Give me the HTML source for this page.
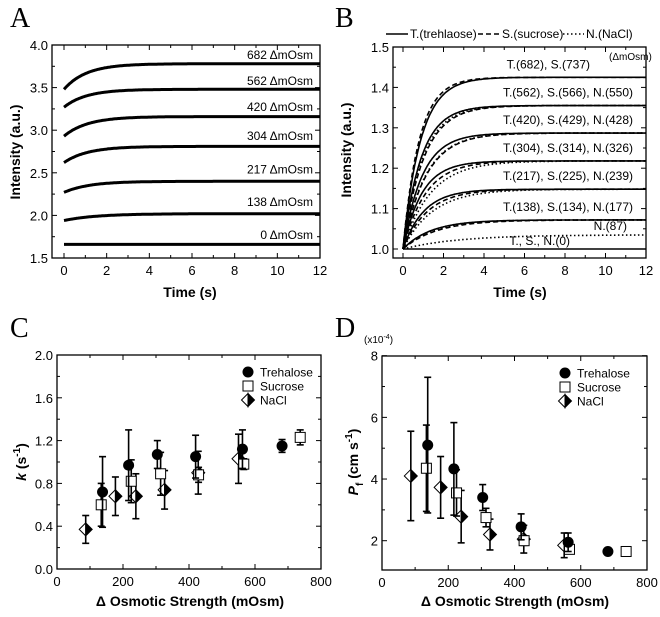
<!DOCTYPE html>
<html><head><meta charset="utf-8">
<style>
body{margin:0;background:#fff;}
svg{display:block;font-family:"Liberation Sans",Arial,sans-serif;}
.tick{font-size:13px;}
.title{font-size:14px;font-weight:bold;}
.panel{font-family:"Liberation Serif",serif;font-size:28px;}
</style></head><body>
<svg id="fig" width="660" height="617" viewBox="0 0 660 617" xmlns="http://www.w3.org/2000/svg"></svg>
<script>
// ---- Panel A data ----
const aLabels = ["682","562","420","304","217","138","0"];
const aStart = [3.48,3.27,2.93,2.62,2.27,1.94,1.66];
const aFinal = [3.78,3.48,3.16,2.81,2.40,2.02,1.66];
const aRate = [0.95,0.95,0.9,0.9,0.85,0.65,1];
const aLabelY = [3.88,3.58,3.27,2.93,2.54,2.16,1.77];
// ---- Panel B data ----
const bPlateau = [1.425,1.355,1.287,1.218,1.148,1.072];
const bRateT = [1.15,1.12,1.05,1.07,0.97,0.72];
const bRateS = [1.25,0.98,0.88,0.89,0.82,0.60];
const bRateN = [null,1.03,0.90,0.74,0.68,0.68];
const bLabels = ["T.(682), S.(737)","T.(562), S.(566), N.(550)","T.(420), S.(429), N.(428)","T.(304), S.(314), N.(326)","T.(217), S.(225), N.(239)","T.(138), S.(134), N.(177)"];
const bN87Plateau = 1.035, bN87Rate = 0.37;
// ---- Panel C data ----
const tX = [138,217,304,420,562,682];
const sX = [134,225,314,429,566,737];
const nX = [87,177,239,326,428,550];
const cT = [0.72,0.97,1.07,1.05,1.12,1.15];
const cTerr = [0.33,0.33,0.13,0.20,0.18,0.06];
const cS = [0.60,0.82,0.89,0.88,0.98,1.23];
const cSerr = [0.20,0.20,0.20,0.07,0.05,0.07];
const cN = [0.37,0.68,0.68,0.74,0.90,1.03];
const cNerr = [0.13,0.18,0.21,0.18,0.20,0.23];
// ---- Panel D data ----
const dT = [5.10,4.33,3.40,2.45,1.95,1.65];
const dTerr = [2.2,1.5,0.42,0.42,0.30,0];
const dS = [4.35,3.55,2.75,2.00,1.72,1.65];
const dSerr = [1.4,0.75,0.30,0.15,0.10,0];
const dN = [4.10,3.73,2.78,2.20,2.05,1.85];
const dNerr = [1.45,1.0,0.85,0.50,0.45,0.40];

const NS="http://www.w3.org/2000/svg";
const svg=document.getElementById('fig');
function el(tag,attrs,parent,text){const e=document.createElementNS(NS,tag);for(const k in attrs)e.setAttribute(k,attrs[k]);if(text!==undefined)e.textContent=text;(parent||svg).appendChild(e);return e;}
function scale(d0,d1,r0,r1){return v=>r0+(v-d0)*(r1-r0)/(d1-d0);}

function axes(g,box,xs,ys,xt,yt,xMinor,yMinor,xl,yl){
  const r=el('rect',{x:box.l,y:box.t,width:box.r-box.l,height:box.b-box.t,fill:'none',stroke:'#000','stroke-width':1.3},g);
  
  xt.forEach(v=>{const x=xs(v);el('line',{x1:x,x2:x,y1:box.b,y2:box.b-5,stroke:'#000'},g);el('line',{x1:x,x2:x,y1:box.t,y2:box.t+5,stroke:'#000'},g);
    const t=el('text',{x:x,y:box.b+17,'text-anchor':'middle',class:'tick'},g,xl?xl(v):v);});
  xMinor.forEach(v=>{const x=xs(v);el('line',{x1:x,x2:x,y1:box.b,y2:box.b-3,stroke:'#000'},g);el('line',{x1:x,x2:x,y1:box.t,y2:box.t+3,stroke:'#000'},g);});
  yt.forEach(v=>{const y=ys(v);el('line',{x1:box.l,x2:box.l+5,y1:y,y2:y,stroke:'#000'},g);el('line',{x1:box.r,x2:box.r-5,y1:y,y2:y,stroke:'#000'},g);
    const t=el('text',{x:box.l-4,y:y+5,'text-anchor':'end',class:'tick'},g,yl?yl(v):v);});
  yMinor.forEach(v=>{const y=ys(v);el('line',{x1:box.l,x2:box.l+3,y1:y,y2:y,stroke:'#000'},g);el('line',{x1:box.r,x2:box.r-3,y1:y,y2:y,stroke:'#000'},g);});
}
function curvePts(xs,ys,x0,x1,y0,yf,k){let p=[];for(let t=x0;t<=x1+1e-9;t+=0.05){p.push(xs(t).toFixed(1)+','+ys(yf-(yf-y0)*Math.exp(-k*t)).toFixed(1));}return p.join(' ');}
function panelLetter(x,y,s){const t=el('text',{x:x,y:y,class:'panel'},svg,s);}

// ===== Panel A =====
{const g=el('g',{});
panelLetter(10,27,'A');
const box={l:52,r:320,t:45,b:258};
const xs=scale(0,12,64,320), ys=scale(1.5,4.0,258,45);
axes(g,box,xs,ys,[0,2,4,6,8,10,12],[1.5,2.0,2.5,3.0,3.5,4.0],[1,3,5,7,9,11],[1.75,2.25,2.75,3.25,3.75],null,v=>v.toFixed(1));
aLabels.forEach((lab,i)=>{
  const p=el('polyline',{points:curvePts(xs,ys,0,12,aStart[i],aFinal[i],aRate[i]),fill:'none',stroke:'#000','stroke-width':3},g);
  
  const t=el('text',{x:313,y:ys(aLabelY[i])+4,'text-anchor':'end','font-size':'12px'},g,lab+' \u0394mOsm');
  
});
const yt=el('text',{x:0,y:0,class:'title',transform:'translate(20,152) rotate(-90)','text-anchor':'middle','font-size':'15px'},g,'Intensity (a.u.)');

const xt=el('text',{x:190,y:297,class:'title','text-anchor':'middle'},g,'Time (s)');
}

// ===== Panel B =====
{const g=el('g',{});
panelLetter(335,27,'B');
const box={l:393,r:646,t:47,b:258};
const xs=scale(0,12,403,646), ys=scale(1.0,1.5,249,47);
axes(g,box,xs,ys,[0,2,4,6,8,10,12],[1.0,1.1,1.2,1.3,1.4,1.5],[1,3,5,7,9,11],[1.05,1.15,1.25,1.35,1.45],null,v=>v.toFixed(1));
const lg=el('g',{},g);
el('line',{x1:386,x2:408,y1:34,y2:34,stroke:'#000','stroke-width':1.5},lg);
el('text',{x:410,y:38,'font-size':'12px'},lg,'T.(trehlaose)');
el('line',{x1:478,x2:500,y1:34,y2:34,stroke:'#000','stroke-width':1.5,'stroke-dasharray':'5,3'},lg);
el('text',{x:502,y:38,'font-size':'12px'},lg,'S.(sucrose)');
el('line',{x1:563,x2:584,y1:34,y2:34,stroke:'#000','stroke-width':1.5,'stroke-dasharray':'1.5,2.5'},lg);
el('text',{x:586,y:38,'font-size':'12px'},lg,'N.(NaCl)');
const base=el('line',{x1:xs(0),x2:xs(12),y1:ys(1),y2:ys(1),stroke:'#000','stroke-width':1.5},g);

bPlateau.forEach((pl,i)=>{
  let p=el('polyline',{points:curvePts(xs,ys,0,12,1,pl,bRateT[i]),fill:'none',stroke:'#000','stroke-width':1.6},g);
  
  p=el('polyline',{points:curvePts(xs,ys,0,12,1,pl,bRateS[i]),fill:'none',stroke:'#000','stroke-width':1.6,'stroke-dasharray':'5,3'},g);
  
  if(bRateN[i]!==null){p=el('polyline',{points:curvePts(xs,ys,0,12,1,pl,bRateN[i]),fill:'none',stroke:'#000','stroke-width':1.6,'stroke-dasharray':'1.5,2.5'},g);
  }
  const t=el('text',{x:i===0?590:633,y:ys(pl)-9,'text-anchor':'end','font-size':'12px'},g,bLabels[i]);
  
});
let p=el('polyline',{points:curvePts(xs,ys,0,12,1,bN87Plateau,bN87Rate),fill:'none',stroke:'#000','stroke-width':1.6,'stroke-dasharray':'1.5,2.5'},g);

let t=el('text',{x:627,y:ys(bN87Plateau)-5,'text-anchor':'end','font-size':'12px'},g,'N.(87)');
t=el('text',{x:570,y:ys(1)-4,'text-anchor':'end','font-size':'12px'},g,'T., S., N.(0)');
t=el('text',{x:609,y:60,'font-size':'10px'},g,'(\u0394mOsm)');
const yt=el('text',{x:0,y:0,class:'title',transform:'translate(351,150) rotate(-90)','text-anchor':'middle','font-size':'15px'},g,'Intensity (a.u.)');

const xt=el('text',{x:520,y:297,class:'title','text-anchor':'middle','font-size':'15px'},g,'Time (s)');
}

// ===== scatter helpers =====
function marker(g,type,x,y){
  if(type==='T'){const m=el('circle',{cx:x,cy:y,r:5.5,fill:'#000'},g);}
  else if(type==='S'){const m=el('rect',{x:x-5,y:y-5,width:10,height:10,fill:'#fff',stroke:'#000','stroke-width':1},g);}
  else{const mg=el('g',{},g);
    el('path',{d:`M${x} ${y-6.5}L${x-6.5} ${y}L${x} ${y+6.5}Z`,fill:'#fff',stroke:'#000','stroke-width':1},mg);
    el('path',{d:`M${x} ${y-6.5}L${x+6.5} ${y}L${x} ${y+6.5}Z`,fill:'#000',stroke:'#000','stroke-width':1},mg);}
}
function errbar(g,x,y0,y1){const e=el('g',{},g);
  el('line',{x1:x,x2:x,y1:y0,y2:y1,stroke:'#000','stroke-width':1.6},e);
  el('line',{x1:x-3.5,x2:x+3.5,y1:y0,y2:y0,stroke:'#000','stroke-width':1.6},e);
  el('line',{x1:x-3.5,x2:x+3.5,y1:y1,y2:y1,stroke:'#000','stroke-width':1.6},e);}
function series(g,xs,ys,X,Y,E,type){X.forEach((xv,i)=>{if(E[i]>0)errbar(g,xs(xv),ys(Y[i]-E[i]),ys(Y[i]+E[i]));});X.forEach((xv,i)=>marker(g,type,xs(xv),ys(Y[i])));}
function legend(g,x,y){const lg=el('g',{},g);
  [['T','Trehalose'],['S','Sucrose'],['N','NaCl']].forEach((d,i)=>{marker(lg,d[0],x,y+i*14);el('text',{x:x+12,y:y+i*14+4.5,'font-size':'12px'},lg,d[1]);});}

// ===== Panel C =====
{const g=el('g',{});
panelLetter(10,337,'C');
const box={l:57,r:321,t:355,b:569};
const xs=scale(0,800,57,321), ys=scale(0,2.0,569,355);
axes(g,box,xs,ys,[0,200,400,600,800],[0,0.4,0.8,1.2,1.6,2.0],[100,300,500,700],[0.2,0.6,1.0,1.4,1.8],null,v=>v.toFixed(1));
series(g,xs,ys,nX,cN,cNerr,'N');series(g,xs,ys,sX,cS,cSerr,'S');series(g,xs,ys,tX,cT,cTerr,'T');
legend(g,248,372);
const yt=el('text',{x:0,y:0,class:'title',transform:'translate(26,462) rotate(-90)','text-anchor':'middle','font-size':'15px'},g);

el('tspan',{'font-style':'italic'},yt,'k');el('tspan',{},yt,' (s');el('tspan',{dy:-6,'font-size':'10px'},yt,'-1');el('tspan',{dy:6},yt,')');
const xt=el('text',{x:190,y:606,class:'title','text-anchor':'middle','font-size':'15px'},g,'\u0394 Osmotic Strength (mOsm)');
}

// ===== Panel D =====
{const g=el('g',{});
panelLetter(335,337,'D');
const box={l:382,r:647,t:356,b:570};
const xs=scale(0,800,382,647), ys=scale(2,8,540.7,355.7);
axes(g,box,xs,ys,[0,200,400,600,800],[2,4,6,8],[100,300,500,700],[3,5,7],null,null);
series(g,xs,ys,nX,dN,dNerr,'N');series(g,xs,ys,sX,dS,dSerr,'S');series(g,xs,ys,tX,dT,dTerr,'T');
legend(g,565,373);
let t=el('text',{x:364,y:343,'font-size':'10px'},g,'(x10');el('tspan',{dy:-4,'font-size':'7px'},t,'-4');el('tspan',{dy:4},t,')');

const yt=el('text',{x:0,y:0,class:'title',transform:'translate(358,462) rotate(-90)','text-anchor':'middle','font-size':'15px'},g);

el('tspan',{'font-style':'italic'},yt,'P');el('tspan',{dy:5,'font-size':'10px'},yt,'f');el('tspan',{dy:-5},yt,' (cm s');el('tspan',{dy:-6,'font-size':'10px'},yt,'-1');el('tspan',{dy:6},yt,')');
const xt=el('text',{x:515,y:606,class:'title','text-anchor':'middle','font-size':'15px'},g,'\u0394 Osmotic Strength (mOsm)');
}
</script>
</body></html>
